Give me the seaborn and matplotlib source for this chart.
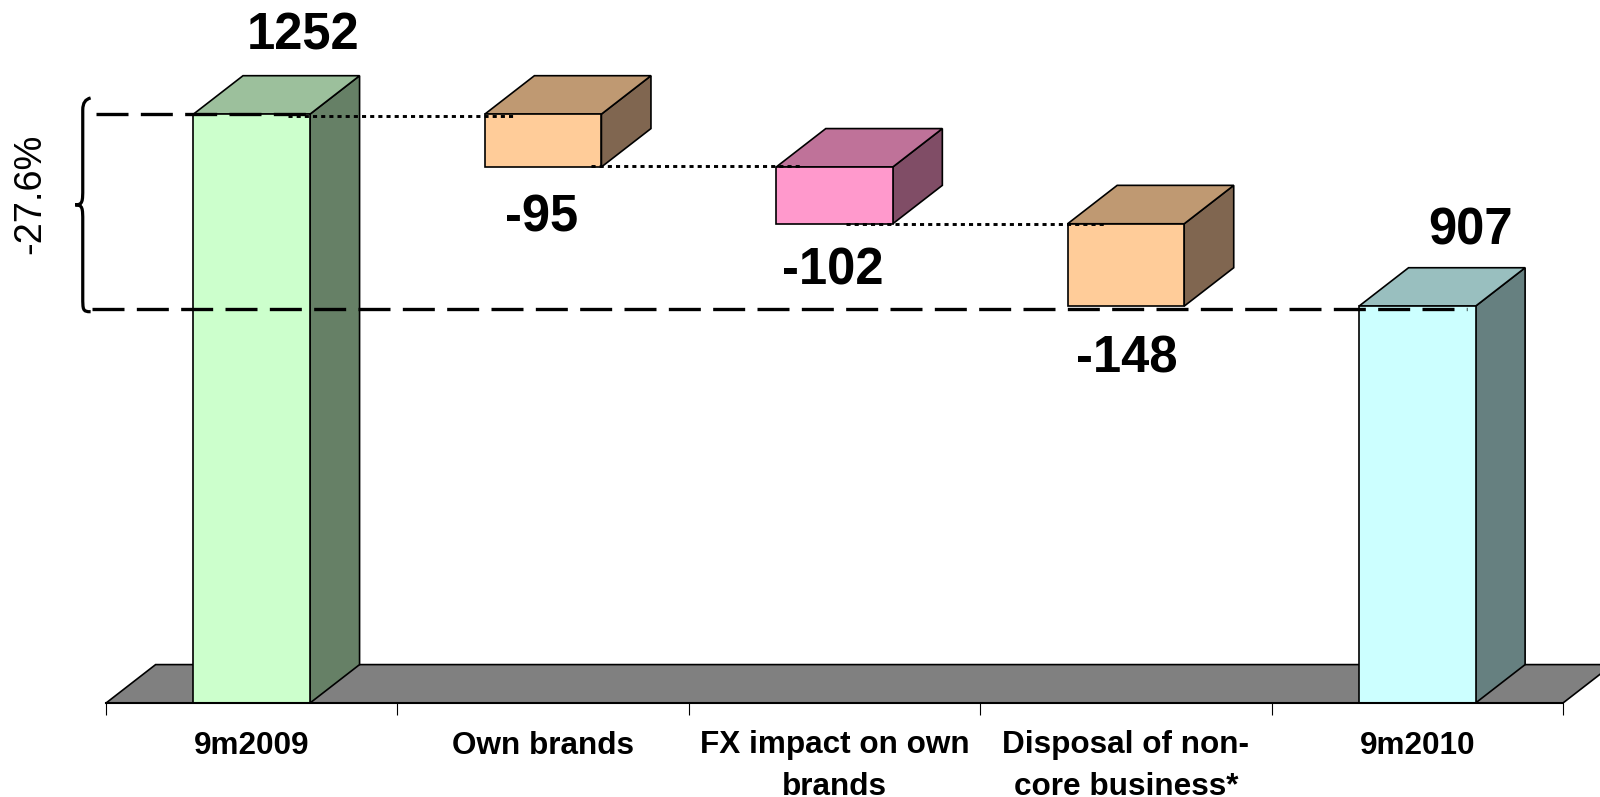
import seaborn as sns
import matplotlib.pyplot as plt
from matplotlib.path import Path
from matplotlib.patches import PathPatch, Polygon
import pandas as pd

# Datos
categories = ["9m2009", "Own brands", "FX impact on own\nbrands", "Disposal of non-\ncore business*", "9m2010"]
values = [1252, -95, -102, -148, 907]
value_labels = ["1252", "-95", "-102", "-148", "907"]
change_label = "-27.6%"

# the value axis does not start at zero in the original
axis_floor = 194
axis_top = 1457

# running totals give the top and bottom of each block
tops = [values[0]]
bottoms = [0]
level = values[0]
for v in values[1:-1]:
    tops.append(level)
    level += v
    bottoms.append(level)
tops.append(values[-1])
bottoms.append(0)
heights = [t - b for t, b in zip(tops, bottoms)]

df = pd.DataFrame({"category": categories, "height": heights})

# Estilo
front_colors = ["#CCFFCC", "#FFCC99", "#FF99CC", "#FFCC99", "#CCFFFF"]
top_colors = ["#9CC09C", "#BF9972", "#BF7299", "#BF9972", "#99BFBF"]
side_colors = ["#668066", "#806650", "#804D66", "#806650", "#668080"]
bar_width = 0.40
depth_x = 0.17
depth_y = 69
label_offsets = [(37, 56), (-1, -37), (-1, -34), (1, -38), (38, 54)]

sns.set_style("white")
plt.rcParams["font.family"] = ["Liberation Sans", "DejaVu Sans"]

fig = plt.figure(figsize=(16, 7.97), dpi=100)
ax = fig.add_axes([0, 94 / 797, 1, 703 / 797])

sns.barplot(data=df, x="category", y="height", bottom=bottoms, width=bar_width, color="white",
            saturation=1, edgecolor="black", linewidth=1.2, ax=ax, zorder=2)
for bar, c in zip(ax.patches, front_colors):
    bar.set_facecolor(c)

ax.set_xlim(-0.864, 4.627)
ax.set_ylim(axis_floor, axis_top)

# Floor of the 3d chart
ax.add_patch(Polygon([(-0.5, axis_floor), (4.5, axis_floor), (4.5 + depth_x, axis_floor + depth_y),
                      (-0.5 + depth_x, axis_floor + depth_y)],
                     facecolor="#808080", edgecolor="black", linewidth=1.2, zorder=0.5))

# Side and top faces
for i in range(len(categories)):
    left = i - bar_width / 2
    right = i + bar_width / 2
    low = max(bottoms[i], axis_floor)
    ax.add_patch(Polygon([(right, low), (right + depth_x, low + depth_y),
                          (right + depth_x, tops[i] + depth_y), (right, tops[i])],
                         facecolor=side_colors[i], edgecolor="black", linewidth=1.2, zorder=1.5))
    ax.add_patch(Polygon([(left, tops[i]), (right, tops[i]), (right + depth_x, tops[i] + depth_y),
                          (left + depth_x, tops[i] + depth_y)],
                         facecolor=top_colors[i], edgecolor="black", linewidth=1.2, zorder=1.5))
    ax.annotate(value_labels[i], xy=(i, tops[i] if values[i] > 0 else bottoms[i]),
                xytext=label_offsets[i], textcoords="offset points",
                ha="center", va="center", fontsize=36.5, fontweight="bold", color="black", zorder=6)

# Dotted connectors between the blocks
connector_ends = [(0.124, -0.10), (0.163, -0.115), (0.04, -0.075)]
connector_shift = [-3, 2, 0]
for i, (a, b) in enumerate(connector_ends):
    y = (bottoms[i] if i else tops[0]) + connector_shift[i]
    ax.plot([i + a, i + 1 + b], [y, y], color="black", lw=2.1,
            dashes=(1.4, 1.4), dash_capstyle="butt", zorder=4)

# Dashed reference levels
dash = dict(color="black", lw=2.4, dashes=(9.6, 3.7), dash_capstyle="butt", zorder=5)
ax.plot([-0.533, 0.197], [values[0], values[0]], **dash)
ax.plot([-0.547, 4.17], [values[-1] - 6, values[-1] - 6], **dash)

# Brace and percent change
brace_x = [-0.553, -0.58, -0.606]
high = values[0] + 29
low = values[-1] - 10
mid = (high + low) / 2
verts = [(brace_x[0], high), (brace_x[1], high - 3), (brace_x[1], high - 21),
         (brace_x[1], mid + 30),
         (brace_x[1], mid + 6), (brace_x[1], mid), (brace_x[2], mid),
         (brace_x[1], mid), (brace_x[1], mid - 6), (brace_x[1], mid - 30),
         (brace_x[1], low + 27),
         (brace_x[1], low + 3), (brace_x[1], low), (brace_x[0], low)]
codes = [Path.MOVETO, Path.CURVE3, Path.CURVE3, Path.LINETO,
         Path.CURVE4, Path.CURVE4, Path.CURVE4,
         Path.CURVE4, Path.CURVE4, Path.CURVE4,
         Path.LINETO, Path.CURVE4, Path.CURVE4, Path.CURVE4]
ax.add_patch(PathPatch(Path(verts, codes), facecolor="none", edgecolor="black", lw=2.3, zorder=5))
ax.text(-0.76, mid + 19, change_label, rotation=90, ha="center", va="center", fontsize=27.4, color="black")

# Ejes
sns.despine(ax=ax, left=True, top=True, right=True)
ax.spines["bottom"].set_bounds(-0.5, 4.5)
ax.spines["bottom"].set_linewidth(1.5)
ax.spines["bottom"].set_color("black")
ax.set_xlabel("")
ax.set_ylabel("")
ax.set_yticks([])
ax.set_xticks([x - 0.5 for x in range(6)], labels=[""] * 6)
ax.set_xticks(range(5), labels=categories, minor=True)
ax.tick_params(axis="x", which="major", bottom=True, length=8.5, width=0.8, color="black")
ax.tick_params(axis="x", which="minor", bottom=True, length=0, pad=19.8, labelsize=22.7, labelcolor="black")
for t in ax.get_xticklabels(minor=True):
    t.set_fontweight("bold")
    t.set_linespacing(1.48)

fig.savefig("out.png", dpi=100)
